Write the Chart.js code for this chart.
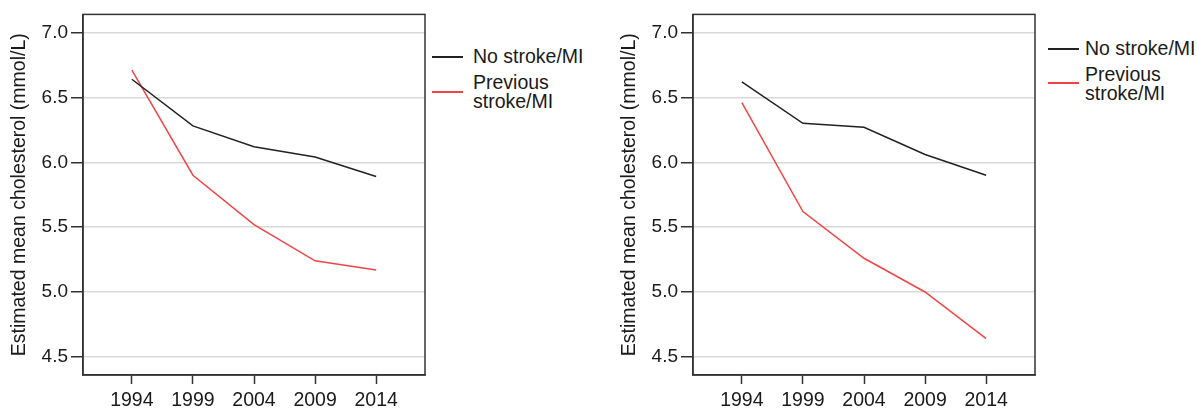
<!DOCTYPE html>
<html>
<head>
<meta charset="utf-8">
<script src="https://cdn.jsdelivr.net/npm/chart.js@4/dist/chart.umd.min.js"></script>
<style>
  html, body { margin: 0; padding: 0; background: #fff; }
  body { width: 1197px; height: 408px; position: relative; overflow: hidden; font-family: "Liberation Sans", Arial, sans-serif; }
  canvas { position: absolute; top: 0; }
  .legend { position: absolute; font-size: 19.5px; color: #1a1a1a; line-height: 19px; white-space: nowrap; }
  .legend .swatch { position: absolute; height: 1.5px; width: 31px; }
  .legend .txt { position: absolute; }
</style>
</head>
<body>
<canvas id="left-chart" width="430" height="408" style="left:0px"></canvas>
<canvas id="right-chart" width="430" height="408" style="left:610px"></canvas>

<div class="legend" style="left:432px; top:0px;">
  <div class="swatch" style="left:0; top:56px; background:#222;"></div>
  <div class="txt" style="left:41px; top:47px;">No stroke/MI</div>
  <div class="swatch" style="left:0; top:91px; background:#f04545;"></div>
  <div class="txt" style="left:41px; top:73px;">Previous<br>stroke/MI</div>
</div>

<div class="legend" style="left:1048px; top:0px;">
  <div class="swatch" style="left:0; top:48px; background:#222;"></div>
  <div class="txt" style="left:37px; top:39px;">No stroke/MI</div>
  <div class="swatch" style="left:0; top:82px; background:#f04545;"></div>
  <div class="txt" style="left:37px; top:65px;">Previous<br>stroke/MI</div>
</div>

<script>
// Data
const years = [1994, 1999, 2004, 2009, 2014];
const yTicks = [4.5, 5.0, 5.5, 6.0, 6.5, 7.0];
const seriesLabels = ['No stroke/MI', 'Previous stroke/MI'];

const leftNoStroke = [6.64, 6.28, 6.12, 6.04, 5.89];
const leftPrevStroke = [6.71, 5.90, 5.52, 5.24, 5.17];

const rightNoStroke = [6.62, 6.30, 6.27, 6.06, 5.90];
const rightPrevStroke = [6.46, 5.62, 5.26, 5.00, 4.64];

const axisTitle = 'Estimated mean cholesterol (mmol/L)';

Chart.defaults.font.family = '"Liberation Sans", Arial, sans-serif';
Chart.defaults.font.size = 19;
Chart.defaults.color = '#1a1a1a';

// draws the box around the plot area
const framePlugin = {
    id: 'frame',
    afterDatasetsDraw(chart) {
        const { ctx, chartArea: a } = chart;
        ctx.save();
        ctx.strokeStyle = '#333';
        ctx.lineWidth = 1.5;
        ctx.strokeRect(a.left, a.top, a.right - a.left, a.bottom - a.top);
        ctx.restore();
    }
};

function toPoints(values) {
    return values.map((v, i) => ({ x: years[i], y: v }));
}

function makeChart(id, noStroke, prevStroke, topPad) {
    const ctx = document.getElementById(id).getContext('2d');
    return new Chart(ctx, {
        type: 'line',
        data: {
            datasets: [
                {
                    label: seriesLabels[0],
                    data: toPoints(noStroke),
                    borderColor: '#222',
                    borderWidth: 1.5,
                    pointRadius: 0,
                    tension: 0
                },
                {
                    label: seriesLabels[1],
                    data: toPoints(prevStroke),
                    borderColor: '#f04545',
                    borderWidth: 1.5,
                    pointRadius: 0,
                    tension: 0
                }
            ]
        },
        options: {
            responsive: false,
            animation: false,
            devicePixelRatio: 1,
            layout: { padding: { top: topPad, right: 5, left: 0, bottom: 0 } },
            plugins: {
                legend: { display: false },
                tooltip: { enabled: false }
            },
            scales: {
                x: {
                    type: 'linear',
                    min: 1990,
                    max: 2018,
                    afterBuildTicks: s => { s.ticks = years.map(v => ({ value: v })); },
                    afterFit: s => { s.height = 33; },
                    ticks: {
                        callback: v => String(v),
                        autoSkip: false,
                        maxRotation: 0,
                        padding: 5,
                        font: { size: 19.5 }
                    },
                    grid: {
                        drawOnChartArea: false,
                        tickLength: 9,
                        tickColor: '#333',
                        tickWidth: 1.5
                    },
                    border: { color: '#333', width: 1.5 }
                },
                y: {
                    min: 4.36,
                    max: 7.14,
                    afterBuildTicks: s => { s.ticks = yTicks.map(v => ({ value: v })); },
                    afterFit: s => { s.width = 83; },
                    ticks: {
                        callback: v => v.toFixed(1),
                        padding: 3
                    },
                    grid: {
                        color: '#d9d9d9',
                        lineWidth: 1.5,
                        tickLength: 12,
                        tickColor: '#333',
                        tickWidth: 1.5
                    },
                    border: { color: '#333', width: 1.5 },
                    title: {
                        display: true,
                        text: axisTitle,
                        font: { size: 19.5 },
                        padding: { top: 8, bottom: 0 }
                    }
                }
            }
        },
        plugins: [framePlugin]
    });
}

makeChart('left-chart', leftNoStroke, leftPrevStroke, 13);
makeChart('right-chart', rightNoStroke, rightPrevStroke, 14);
</script>
</body>
</html>
